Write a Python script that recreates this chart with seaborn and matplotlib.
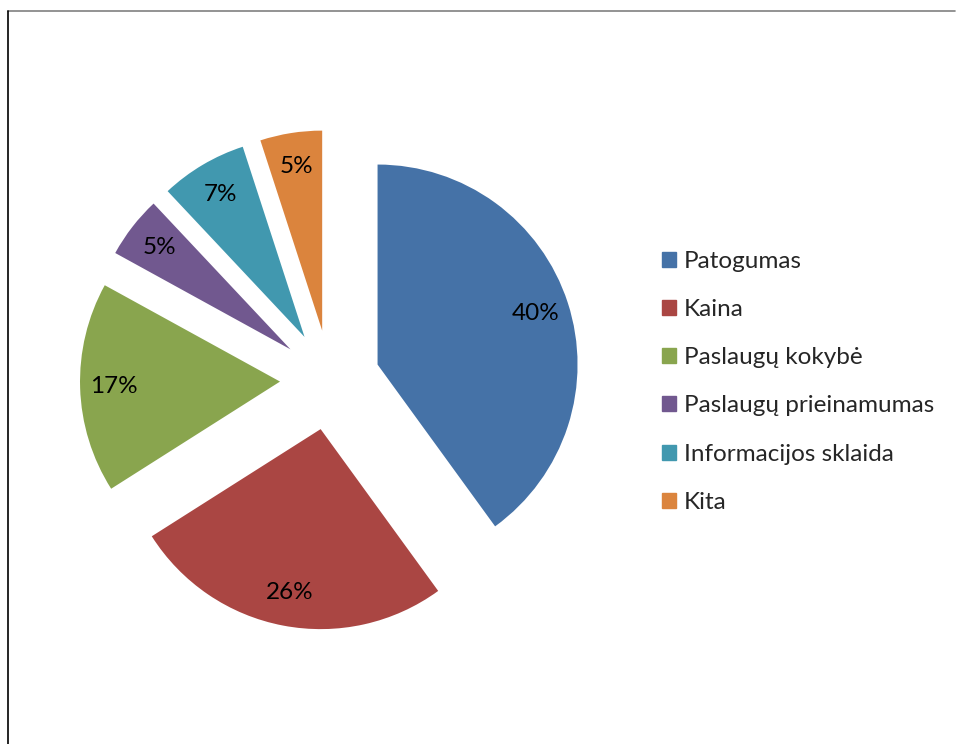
import matplotlib
matplotlib.use("Agg")
import matplotlib.pyplot as plt
import matplotlib.patches as mpatches
from matplotlib.lines import Line2D
import seaborn as sns

# data
categories = ["Patogumas", "Kaina", "Paslaugų kokybė", "Paslaugų prieinamumas",
              "Informacijos sklaida", "Kita"]
shares = [40, 26, 17, 5, 7, 5]
colors = ["#4572A7", "#AA4643", "#89A54E", "#71588F", "#4198AF", "#DB843D"]

sns.set_theme(style="white")
plt.rcParams['font.family'] = ['Lato', 'DejaVu Sans']
palette = sns.color_palette(colors)

fig = plt.figure(figsize=(9.56, 7.44), dpi=100)
ax = fig.add_axes([0.0, 34 / 744, 660 / 956, 660 / 744])

wedges, texts, autotexts = ax.pie(
    shares,
    colors=palette,
    startangle=90,
    counterclock=False,
    explode=[0.25] * len(shares),
    autopct='%d%%',
    pctdistance=0.83,
    wedgeprops=dict(linewidth=0),
    textprops=dict(fontsize=17.5, color='black'),
)
ax.set_xlim(-1.65, 1.65)
ax.set_ylim(-1.65, 1.65)
ax.set_aspect('equal')
ax.axis('off')

handles = [mpatches.Patch(color=c, label=l) for c, l in zip(palette, categories)]
fig.legend(handles=handles, loc='upper left', bbox_to_anchor=(0.682, 0.676),
           frameon=False, fontsize=17.5, handlelength=0.58, handleheight=0.58,
           handletextpad=0.32, labelspacing=1.12, borderaxespad=0)

# chart frame edges
fig.add_artist(Line2D([8 / 956, 955 / 956], [1 - 11 / 744, 1 - 11 / 744],
                      color='#808080', lw=1.2))
fig.add_artist(Line2D([8 / 956, 8 / 956], [0, 1 - 11 / 744],
                      color='black', lw=1.2))

fig.savefig("out.png", dpi=100)
